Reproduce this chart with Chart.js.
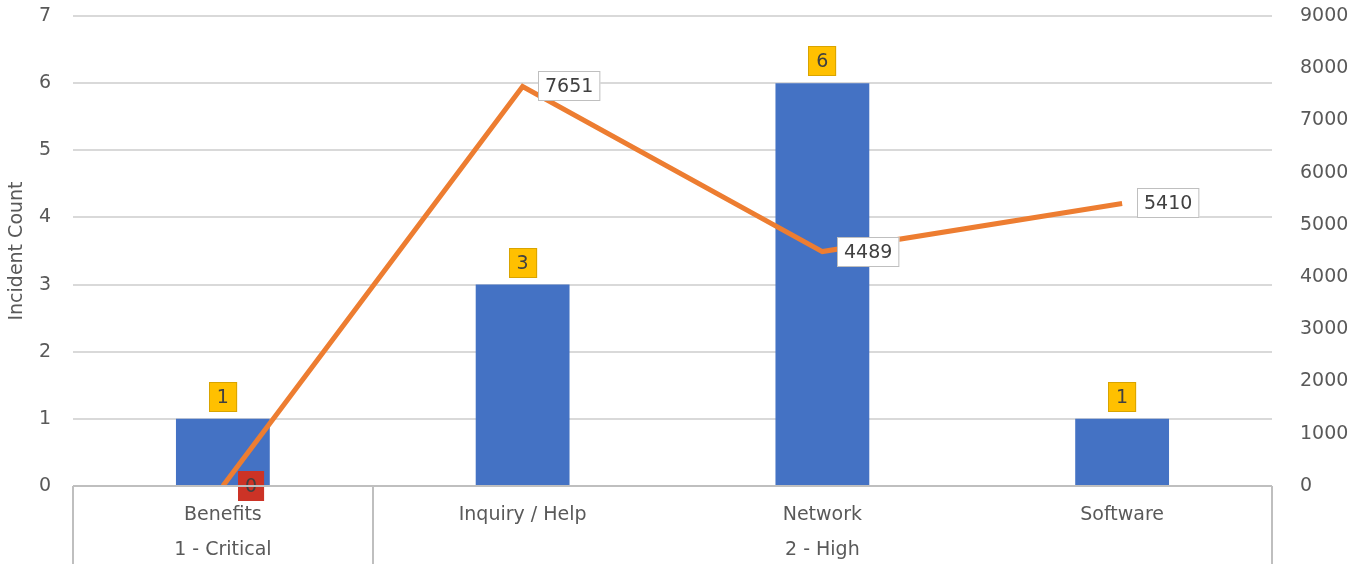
<!DOCTYPE html>
<html>
<head>
<meta charset="utf-8">
<script src="https://cdn.jsdelivr.net/npm/chart.js@4/dist/chart.umd.min.js"></script>
<style>
  body { margin: 0; background: #fff; }
  #wrap { width: 1358px; height: 564px; position: relative; }
</style>
</head>
<body>
<div id="wrap"><canvas id="myChart"></canvas></div>
<script>
// data
var categories = ["Benefits", "Inquiry / Help", "Network", "Software"];
var priorityGroups = ["1 - Critical", "2 - High", "2 - High", "2 - High"];
var incidentCounts = [1, 3, 6, 1];
var lineValues = [0, 7651, 4489, 5410];
var countTicks = [0, 1, 2, 3, 4, 5, 6, 7];
var valueTicks = [0, 1000, 2000, 3000, 4000, 5000, 6000, 7000, 8000, 9000];

var textGrey = "#595959";
var boxLine = "#bfbfbf";
var fontFam = "'DejaVu Sans', sans-serif";
var labelFont = "19px " + fontFam;

Chart.defaults.font.family = fontFam;
Chart.defaults.font.size = 19;
Chart.defaults.color = textGrey;

// labels on the marks (no datalabels plugin available offline)
var markLabels = {
    id: "markLabels",
    afterDatasetsDraw: function (chart) {
        var ctx = chart.ctx;
        ctx.save();
        ctx.font = labelFont;
        ctx.textAlign = "center";
        ctx.textBaseline = "middle";

        // bar labels, yellow boxes above the bars
        chart.getDatasetMeta(0).data.forEach(function (bar, i) {
            var txt = String(incidentCounts[i]);
            var w = ctx.measureText(txt).width + 16;
            var h = 30;
            var bx = Math.round(bar.x - w / 2);
            var by = Math.round(bar.y - 7 - h);
            ctx.fillStyle = "#ffc000";
            ctx.fillRect(bx, by, w, h);
            ctx.strokeStyle = "#d9a400";
            ctx.lineWidth = 1;
            ctx.strokeRect(bx + 0.5, by + 0.5, w - 1, h - 1);
            ctx.fillStyle = "#404040";
            ctx.fillText(txt, bar.x, by + h / 2 + 1);
        });

        // line labels, to the right of each point
        chart.getDatasetMeta(1).data.forEach(function (pt, i) {
            var txt = String(lineValues[i]);
            var w = ctx.measureText(txt).width + 14;
            var h = 30;
            var bx = Math.round(pt.x + 15);
            var by = Math.round(pt.y - h / 2);
            if (lineValues[i] === 0) {
                ctx.fillStyle = "#cc3326";
                ctx.fillRect(bx, by, w, h);
            } else {
                ctx.fillStyle = "#ffffff";
                ctx.fillRect(bx, by, w, h);
                ctx.strokeStyle = boxLine;
                ctx.lineWidth = 1;
                ctx.strokeRect(bx + 0.5, by + 0.5, w - 1, h - 1);
            }
            ctx.fillStyle = "#404040";
            ctx.fillText(txt, bx + w / 2, by + h / 2 + 1);
        });
        ctx.restore();
    }
};

// two level category axis: box lines and the priority row
var groupAxis = {
    id: "groupAxis",
    afterDraw: function (chart) {
        var ctx = chart.ctx;
        var xs = chart.scales.x;
        var area = chart.chartArea;
        var bottom = chart.height;
        ctx.save();
        ctx.strokeStyle = boxLine;
        ctx.lineWidth = 2;

        var edge = function (i) {
            if (i <= 0) return area.left;
            if (i >= categories.length) return area.right;
            return (xs.getPixelForValue(i - 1) + xs.getPixelForValue(i)) / 2;
        };

        ctx.beginPath();
        ctx.moveTo(area.left, area.bottom);
        ctx.lineTo(area.right, area.bottom);
        ctx.stroke();

        // find runs of the same group
        var start = 0;
        ctx.font = labelFont;
        ctx.fillStyle = textGrey;
        ctx.textAlign = "center";
        ctx.textBaseline = "middle";
        for (var i = 1; i <= priorityGroups.length; i++) {
            if (i === priorityGroups.length || priorityGroups[i] !== priorityGroups[start]) {
                var x0 = edge(start), x1 = edge(i);
                ctx.beginPath();
                ctx.moveTo(Math.round(x0), area.bottom);
                ctx.lineTo(Math.round(x0), bottom);
                ctx.moveTo(Math.round(x1), area.bottom);
                ctx.lineTo(Math.round(x1), bottom);
                ctx.stroke();
                ctx.fillText(priorityGroups[start], (x0 + x1) / 2, area.bottom + 64);
                start = i;
            }
        }
        ctx.restore();
    }
};

var ctx = document.getElementById("myChart").getContext("2d");
var chart = new Chart(ctx, {
    type: "bar",
    data: {
        labels: categories,
        datasets: [{
            type: "bar",
            label: "Incident Count",
            data: incidentCounts,
            backgroundColor: "#4472c4",
            yAxisID: "y",
            categoryPercentage: 1,
            barPercentage: 0.313,
            order: 1
        }, {
            type: "line",
            label: "Value",
            data: lineValues,
            borderColor: "#ed7d31",
            borderWidth: 5,
            pointRadius: 0,
            tension: 0,
            yAxisID: "y1",
            order: 0
        }]
    },
    options: {
        responsive: true,
        maintainAspectRatio: false,
        animation: false,
        layout: { padding: { top: 16, left: 0, right: 0, bottom: 0 } },
        plugins: {
            legend: { display: false },
            tooltip: { enabled: false }
        },
        scales: {
            x: {
                grid: { display: false },
                border: { display: false },
                ticks: { padding: 10, color: textGrey, maxRotation: 0, font: { size: 19 } },
                afterFit: function (s) { s.height = 78; s.paddingLeft = 0; s.paddingRight = 0; }
            },
            y: {
                position: "left",
                min: 0,
                max: 7,
                afterBuildTicks: function (s) {
                    s.ticks = countTicks.map(function (v) { return { value: v }; });
                },
                grid: { color: "#d9d9d9", lineWidth: 2, drawTicks: false },
                border: { display: false },
                ticks: { padding: 22, color: textGrey, font: { size: 19 } },
                title: {
                    display: true,
                    text: "Incident Count",
                    font: { size: 19 },
                    color: textGrey,
                    padding: { top: 6, bottom: 0 }
                },
                afterFit: function (s) { s.width = 73; s.paddingTop = 0; s.paddingBottom = 0; }
            },
            y1: {
                position: "right",
                min: 0,
                max: 9000,
                afterBuildTicks: function (s) {
                    s.ticks = valueTicks.map(function (v) { return { value: v }; });
                },
                grid: { display: false },
                border: { display: false },
                ticks: {
                    padding: 20,
                    color: textGrey,
                    font: { size: 19 },
                    callback: function (v) { return String(v); }
                },
                afterFit: function (s) { s.width = 86; s.paddingTop = 0; s.paddingBottom = 0; }
            }
        }
    },
    plugins: [markLabels, groupAxis]
});
</script>
</body>
</html>
